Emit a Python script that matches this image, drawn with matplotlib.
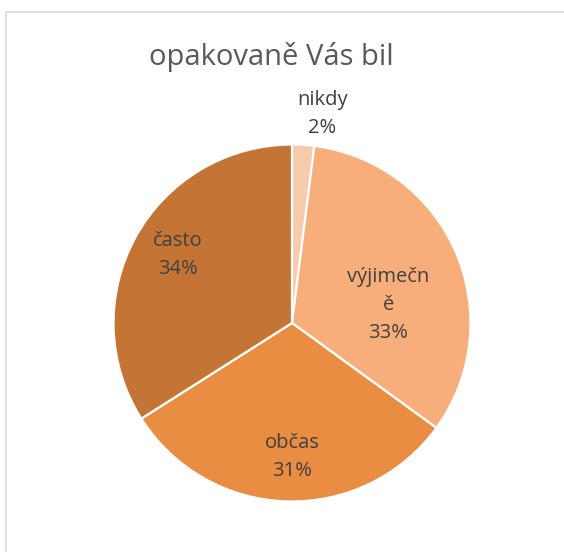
import numpy as np
import matplotlib.pyplot as plt
from matplotlib.patches import Rectangle

plt.rcParams['font.family'] = ['Open Sans', 'DejaVu Sans']

labels = ['nikdy', 'výjimečn\ně', 'občas', 'často']
values = [2, 33, 31, 34]
pct_labels = ['2%', '33%', '31%', '34%']
colors = ['#F8CBAD', '#F8AE7A', '#E88D41', '#C47535']

# label centres in pie-radius units (Excel "best fit" placement)
label_pos = [(0.17, 1.17), (0.54, 0.10), (0.0, -0.75), (-0.64, 0.38)]

W, H = 564, 552
fig = plt.figure(figsize=(W / 100, H / 100), dpi=100)

# chart frame
fig.patches.append(Rectangle((6 / W, -0.1), 1.2, 1 - 12 / H + 0.1,
                             transform=fig.transFigure, fill=False,
                             edgecolor='#D9D9D9', linewidth=1.2))

cx, cy, r = 292, 323, 178.5
ax = fig.add_axes([(cx - r) / W, (H - cy - r) / H, 2 * r / W, 2 * r / H])
ax.pie(values, colors=colors, startangle=90, counterclock=False, radius=1,
       wedgeprops=dict(edgecolor='white', linewidth=1.6))
ax.set_xlim(-1, 1)
ax.set_ylim(-1, 1)
ax.set_aspect('equal')
ax.axis('off')

for lab, pct, (x, y) in zip(labels, pct_labels, label_pos):
    ax.text(x, y, lab + '\n' + pct, ha='center', va='center', fontsize=14.5,
            color='#404040', linespacing=1.55, clip_on=False)

fig.text(271 / W, 1 - 57 / H, 'opakovaně Vás bil', ha='center', va='center',
         fontsize=21, color='#595959')

fig.savefig('out.png', dpi=100)
